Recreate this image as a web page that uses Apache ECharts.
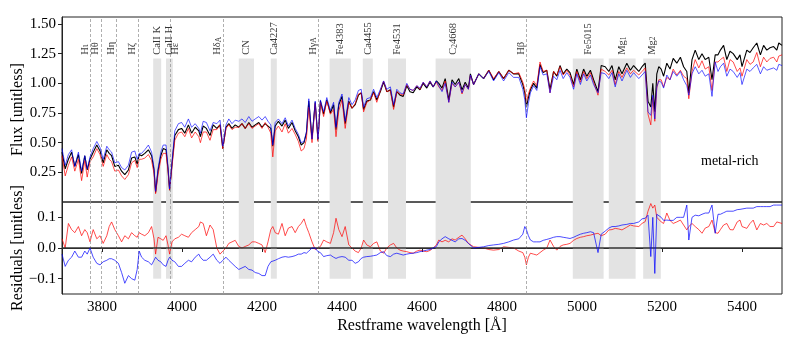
<!DOCTYPE html>
<html>
<head>
<meta charset="utf-8">
<script src="https://cdn.jsdelivr.net/npm/echarts@6/dist/echarts.min.js"></script>
<style>
  html, body { margin: 0; padding: 0; background: #fff; }
  #chart { width: 789px; height: 342px; }
</style>
</head>
<body>
<div id="chart"></div>
<script>
// restframe wavelength grid (Å)
const wave = [
  3700,3708,3716,3724,3732,3741,3749,3757,3763,3770,
  3778,3787,3795,3803,3812,3818,3824,3832,3841,3849,
  3857,3866,3874,3882,3888,3893,3899,3907,3916,3924,
  3930,3934,3940,3947,3953,3960,3965,3969,3975,3982,
  3991,3999,4007,4016,4024,4033,4042,4046,4053,4061,
  4070,4078,4087,4095,4102,4110,4117,4125,4133,4142,
  4150,4158,4167,4175,4183,4192,4200,4208,4215,4222,
  4227,4233,4241,4250,4258,4266,4275,4283,4291,4298,
  4305,4311,4317,4325,4333,4340,4346,4354,4362,4371,
  4379,4385,4392,4400,4408,4417,4425,4433,4441,4448,
  4454,4462,4471,4479,4487,4496,4504,4512,4521,4529,
  4537,4545,4553,4562,4570,4578,4587,4595,4603,4612,
  4620,4628,4636,4642,4650,4658,4667,4675,4683,4692,
  4700,4708,4716,4721,4729,4742,4754,4767,4779,4792,
  4804,4817,4829,4842,4852,4857,4861,4866,4871,4879,
  4887,4895,4903,4912,4920,4929,4937,4945,4953,4962,
  4970,4979,4987,4996,5004,5012,5021,5029,5040,5048,
  5058,5067,5075,5083,5092,5100,5112,5121,5129,5142,
  5150,5158,5165,5172,5177,5182,5187,5192,5198,5204,
  5212,5220,5228,5237,5246,5254,5262,5267,5275,5283,
  5292,5300,5308,5317,5325,5333,5340,5346,5354,5362,
  5370,5378,5388,5395,5400,5412,5420,5428,5437,5446,
  5454,5462,5470,5479,5487,5492,5500
];

const fluxBlack = [
  0.42,0.28,0.36,0.42,0.30,0.40,0.24,0.39,0.27,0.36,
  0.42,0.48,0.43,0.33,0.44,0.41,0.39,0.30,0.31,0.26,
  0.23,0.27,0.37,0.38,0.32,0.40,0.39,0.41,0.44,0.39,
  0.27,0.08,0.26,0.39,0.45,0.44,0.28,0.10,0.32,0.56,
  0.61,0.62,0.58,0.65,0.58,0.63,0.60,0.55,0.64,0.62,
  0.56,0.65,0.62,0.65,0.45,0.63,0.66,0.62,0.65,0.63,
  0.66,0.62,0.67,0.63,0.65,0.67,0.63,0.66,0.64,0.62,
  0.47,0.64,0.68,0.64,0.69,0.62,0.67,0.60,0.55,0.48,
  0.50,0.58,0.85,0.53,0.84,0.52,0.85,0.74,0.86,0.75,
  0.82,0.61,0.82,0.89,0.66,0.85,0.79,0.82,0.90,0.92,
  0.78,0.85,0.86,0.93,0.86,0.93,1.01,0.93,0.945,0.80,
  0.93,0.90,0.89,0.98,0.93,0.92,0.97,0.945,1.00,0.96,
  1.01,0.97,1.02,1.00,0.96,1.04,0.86,1.03,0.99,1.04,
  0.945,1.01,0.96,1.08,0.99,1.08,1.04,1.11,1.03,1.10,
  1.04,1.11,1.08,1.08,0.99,0.92,0.80,0.88,0.945,1.00,
  0.96,1.16,1.09,1.11,0.95,1.10,1.06,1.15,1.08,1.12,
  1.09,0.99,1.12,1.03,1.12,1.06,1.11,1.03,0.93,1.15,
  1.14,1.10,1.15,1.03,1.14,1.08,1.17,1.11,1.15,1.10,
  1.14,1.17,0.85,0.80,1.00,0.76,1.08,1.14,1.12,1.06,
  1.17,1.12,1.21,1.17,1.22,1.14,1.10,0.92,1.20,1.28,
  1.20,1.25,1.20,1.22,1.03,1.24,1.24,1.28,1.32,1.20,
  1.27,1.25,1.20,1.24,1.14,1.28,1.26,1.30,1.34,1.24,
  1.32,1.28,1.30,1.31,1.28,1.34,1.32
];

const fluxRed = [
  0.39,0.22,0.31,0.38,0.26,0.36,0.18,0.35,0.21,0.34,
  0.38,0.45,0.40,0.30,0.40,0.36,0.34,0.26,0.27,0.22,
  0.19,0.23,0.33,0.35,0.29,0.36,0.36,0.37,0.40,0.35,
  0.24,0.07,0.23,0.36,0.41,0.41,0.26,0.10,0.30,0.52,
  0.58,0.59,0.55,0.62,0.54,0.59,0.55,0.50,0.59,0.59,
  0.52,0.61,0.61,0.65,0.45,0.62,0.65,0.61,0.63,0.63,
  0.66,0.62,0.66,0.62,0.64,0.66,0.62,0.67,0.63,0.58,
  0.38,0.60,0.64,0.59,0.66,0.58,0.62,0.57,0.51,0.43,
  0.45,0.53,0.80,0.50,0.83,0.51,0.84,0.72,0.85,0.74,
  0.78,0.55,0.77,0.86,0.62,0.84,0.79,0.83,0.91,0.92,
  0.76,0.84,0.86,0.92,0.84,0.94,1.02,0.93,0.94,0.78,
  0.93,0.91,0.90,0.99,0.95,0.94,0.98,0.95,1.01,0.97,
  1.02,0.97,1.01,0.97,0.94,1.02,0.84,1.00,0.97,1.01,
  0.91,0.99,0.95,1.07,0.99,1.08,1.04,1.11,1.04,1.10,
  1.04,1.11,1.08,1.09,1.01,0.95,0.84,0.91,0.96,1.02,
  0.98,1.18,1.10,1.11,0.92,1.10,1.07,1.14,1.07,1.11,
  1.07,0.97,1.10,1.01,1.10,1.04,1.09,1.01,0.90,1.12,
  1.10,1.07,1.11,0.99,1.10,1.05,1.13,1.08,1.11,1.07,
  1.10,1.13,0.74,0.65,0.88,0.68,0.96,1.03,1.03,0.97,
  1.05,1.03,1.12,1.07,1.11,1.06,1.04,0.87,1.10,1.20,
  1.13,1.19,1.12,1.14,0.94,1.18,1.18,1.20,1.22,1.10,
  1.20,1.18,1.10,1.13,1.06,1.20,1.16,1.18,1.26,1.14,
  1.22,1.18,1.21,1.22,1.18,1.23,1.24
];

const fluxBlue = [
  0.45,0.31,0.40,0.44,0.30,0.42,0.26,0.39,0.28,0.38,
  0.45,0.51,0.46,0.36,0.47,0.44,0.42,0.33,0.34,0.29,
  0.27,0.31,0.42,0.43,0.36,0.41,0.41,0.44,0.48,0.42,
  0.29,0.09,0.28,0.42,0.48,0.48,0.30,0.11,0.34,0.60,
  0.66,0.67,0.63,0.70,0.63,0.66,0.62,0.58,0.68,0.67,
  0.60,0.67,0.66,0.69,0.47,0.65,0.70,0.66,0.69,0.68,
  0.70,0.67,0.72,0.68,0.70,0.72,0.69,0.72,0.68,0.65,
  0.48,0.67,0.70,0.66,0.71,0.64,0.69,0.62,0.57,0.50,
  0.51,0.59,0.87,0.53,0.85,0.53,0.86,0.76,0.88,0.77,
  0.84,0.63,0.84,0.91,0.68,0.88,0.82,0.86,0.94,0.95,
  0.80,0.87,0.88,0.95,0.88,0.95,1.02,0.95,0.97,0.82,
  0.95,0.92,0.91,1.00,0.95,0.94,0.98,0.96,1.01,0.97,
  1.02,0.97,1.02,0.98,0.93,1.00,0.84,1.01,0.97,1.01,
  0.92,0.99,0.95,1.07,0.99,1.08,1.04,1.10,1.02,1.09,
  1.02,1.09,1.05,1.05,0.95,0.86,0.71,0.83,0.92,0.98,
  0.94,1.14,1.07,1.08,0.92,1.06,1.03,1.11,1.04,1.09,
  1.05,0.95,1.08,0.99,1.08,1.02,1.07,0.99,0.92,1.09,
  1.08,1.04,1.09,0.97,1.08,1.02,1.11,1.05,1.09,1.04,
  1.07,1.10,0.76,0.73,0.90,0.70,0.97,1.02,1.01,0.96,
  1.07,1.03,1.10,1.06,1.10,1.03,0.98,0.90,1.08,1.14,
  1.08,1.11,1.06,1.08,0.89,1.18,1.10,1.14,1.17,1.06,
  1.12,1.10,1.05,1.09,0.99,1.12,1.10,1.13,1.16,1.08,
  1.14,1.11,1.12,1.13,1.11,1.16,1.15
];

const resRed = [
  0.03,0.00,0.08,0.06,0.05,0.07,0.04,0.06,0.05,0.02,
  0.06,0.03,0.04,0.015,0.04,0.07,0.085,0.06,0.04,0.02,
  0.04,0.03,0.05,0.04,0.035,0.05,0.045,0.04,0.05,0.07,
  0.03,-0.02,0.035,0.03,0.025,0.04,0.01,-0.02,0.02,0.03,
  0.035,0.045,0.04,0.035,0.05,0.06,0.07,0.085,0.08,0.04,
  0.075,0.06,0.00,-0.02,-0.01,0.00,0.015,0.02,0.025,0.005,
  0.00,0.005,0.01,0.02,0.02,0.015,0.01,-0.015,0.02,0.06,
  0.07,0.05,0.045,0.08,0.04,0.065,0.07,0.05,0.07,0.08,
  0.095,0.07,0.05,0.02,-0.005,0.00,0.005,0.026,0.02,0.015,
  0.05,0.097,0.06,0.037,0.07,0.01,0.00,-0.01,-0.015,0.00,
  0.026,0.01,0.004,0.015,0.02,-0.01,-0.017,0.00,0.01,0.015,
  0.00,-0.007,-0.01,-0.012,-0.015,-0.017,-0.01,-0.007,-0.01,-0.012,
  -0.008,0.00,0.01,0.026,0.02,0.025,0.02,0.03,0.026,0.035,
  0.042,0.03,0.015,0.01,0.004,0.002,0.00,-0.005,-0.007,-0.005,
  0.004,0.002,0.00,-0.01,-0.015,-0.03,-0.055,-0.03,-0.017,-0.02,
  -0.023,-0.015,-0.007,0.00,0.026,0.005,-0.007,0.005,0.01,0.012,
  0.015,0.025,0.031,0.035,0.037,0.04,0.042,0.045,0.048,0.04,
  0.045,0.059,0.06,0.064,0.062,0.059,0.068,0.075,0.072,0.07,
  0.08,0.086,0.12,0.145,0.13,0.14,0.10,0.10,0.085,0.08,
  0.114,0.09,0.08,0.085,0.091,0.075,0.059,0.07,0.08,0.07,
  0.06,0.048,0.065,0.07,0.091,0.05,0.048,0.06,0.075,0.08,
  0.06,0.059,0.085,0.091,0.07,0.064,0.08,0.091,0.059,0.08,
  0.075,0.08,0.07,0.07,0.085,0.091,0.08
];

const resBlue = [
  -0.02,-0.06,-0.04,-0.03,-0.01,-0.03,-0.03,-0.01,-0.02,0.00,
  -0.03,-0.05,-0.055,-0.045,-0.04,-0.035,-0.035,-0.04,-0.05,-0.08,
  -0.115,-0.09,-0.10,-0.105,-0.07,-0.01,-0.03,-0.04,-0.045,-0.055,
  -0.04,-0.03,-0.04,-0.045,-0.055,-0.06,-0.04,-0.03,-0.04,-0.045,
  -0.06,-0.06,-0.05,-0.04,-0.045,-0.03,-0.02,-0.03,-0.04,-0.04,
  -0.03,-0.02,-0.04,-0.05,-0.04,-0.03,-0.04,-0.05,-0.06,-0.07,
  -0.065,-0.06,-0.07,-0.072,-0.08,-0.083,-0.09,-0.09,-0.06,-0.045,
  -0.04,-0.04,-0.035,-0.03,-0.028,-0.03,-0.028,-0.025,-0.02,-0.02,
  -0.015,-0.017,-0.01,0.00,0.00,-0.012,-0.015,-0.028,-0.025,-0.023,
  -0.03,-0.034,-0.03,-0.028,-0.03,-0.04,-0.04,-0.05,-0.045,-0.034,
  -0.03,-0.028,-0.027,-0.025,-0.023,-0.015,-0.012,-0.025,-0.028,-0.02,
  -0.017,-0.02,-0.023,-0.02,-0.018,-0.017,-0.015,-0.012,-0.01,-0.007,
  -0.005,0.00,0.005,0.02,0.03,0.037,0.03,0.025,0.02,0.03,
  0.031,0.025,0.015,0.01,0.00,0.002,0.004,0.008,0.01,0.012,
  0.015,0.02,0.026,0.03,0.045,0.07,0.06,0.04,0.026,0.02,
  0.02,0.02,0.025,0.028,0.031,0.035,0.037,0.037,0.035,0.033,
  0.031,0.035,0.04,0.045,0.048,0.05,0.053,0.05,-0.015,0.045,
  0.055,0.065,0.07,0.07,0.072,0.075,0.077,0.08,0.08,0.085,
  0.095,0.097,0.107,-0.028,0.10,-0.083,0.11,0.11,0.10,0.09,
  0.091,0.09,0.09,0.10,0.10,0.10,0.14,0.026,0.10,0.107,
  0.105,0.11,0.114,0.114,0.14,0.048,0.11,0.11,0.115,0.12,
  0.12,0.12,0.125,0.126,0.13,0.13,0.13,0.13,0.135,0.135,
  0.135,0.135,0.135,0.14,0.14,0.14,0.14
];

// Balmer lines (dashed) and Lick index bands (grey)
const lineWaves = [3771, 3798, 3836, 3890, 3970, 4102, 4341, 4861];
const lineNames = ["{n|Hι}", "{n|Hθ}", "{n|Hη}", "{n|Hζ}", "{n|Hε}", "{n|Hδ}{s|A}", "{n|Hγ}{s|A}", "{n|Hβ}"];
const lineSide = ["left", "left", "left", "left", "right", "left", "left", "left"];
const bandStart = [3928, 3960, 4142, 4222, 4369, 4452, 4515, 4634, 4977, 5067, 5153];
const bandEnd = [3948, 3977, 4180, 4237, 4422, 4477, 4560, 4722, 5054, 5134, 5197];
const bandNames = ["{n|CaII K}", "{n|CaII H}", "{n|CN}", "{n|Ca4227}", "{n|Fe4383}", "{n|Ca4455}", "{n|Fe4531}",
  "{n|C}{s|2}{n|4668}", "{n|Fe5015}", "{n|Mg}{s|1}", "{n|Mg}{s|2}"];

const fluxTicks = [0.25, 0.5, 0.75, 1.0, 1.25, 1.5];
const resTicks = [-0.1, 0, 0.1];
const waveTicks = [3800, 4000, 4200, 4400, 4600, 4800, 5000, 5200, 5400];

let font = "'Liberation Serif', 'DejaVu Serif', serif";
let zip = (ys) => wave.map((w, i) => [w, ys[i]]);

let labelY = 1.24;
let labelItems = [];
lineWaves.forEach((w, i) => {
  labelItems.push({
    value: [w, labelY],
    name: lineNames[i],
    label: { verticalAlign: lineSide[i] === "left" ? "bottom" : "top" },
  });
});
bandStart.forEach((s, i) => {
  labelItems.push({
    value: [(s + bandEnd[i]) / 2, labelY],
    name: bandNames[i],
    label: { verticalAlign: "middle" },
  });
});

function markers(yLow, yBandTop) {
  return {
    type: "line",
    data: [],
    z: 1,
    silent: true,
    markArea: {
      silent: true,
      itemStyle: { color: "#e3e3e3" },
      data: bandStart.map((s, i) => [
        { xAxis: s, yAxis: yLow },
        { xAxis: bandEnd[i], yAxis: yBandTop },
      ]),
    },
    markLine: {
      silent: true,
      symbol: "none",
      label: { show: false },
      lineStyle: { color: "#9a9a9a", type: [3, 2], width: 0.8 },
      data: lineWaves.map((w) => ({ xAxis: w })),
    },
  };
}

let axisName = { fontFamily: font, fontSize: 16, color: "#000" };
let tickFont = { fontFamily: font, fontSize: 15, color: "#000" };

let chart = echarts.init(document.getElementById("chart"));
let option = {
  animation: false,
  title: {
    text: "metal-rich",
    left: 701,
    top: 154,
    padding: 0,
    textStyle: { fontFamily: font, fontSize: 14, fontWeight: "normal", color: "#000" },
  },
  grid: [
    { left: 62, right: 7, top: 17, height: 185, containLabel: false, outerBoundsMode: "none", show: true, borderColor: "#222", borderWidth: 1 },
    { left: 62, right: 7, top: 202, height: 92, containLabel: false, outerBoundsMode: "none", show: true, borderColor: "#222", borderWidth: 1 },
  ],
  xAxis: [
    {
      gridIndex: 0,
      type: "value",
      min: 3700,
      max: 5500,
      axisLine: { show: false },
      axisTick: { show: false },
      axisLabel: { show: false },
      splitLine: { show: false },
    },
    {
      gridIndex: 1,
      type: "value",
      min: 3700,
      max: 5500,
      name: "Restframe wavelength [Å]",
      nameLocation: "middle",
      nameGap: 24,
      nameMoveOverlap: false,
      nameTextStyle: axisName,
      axisLine: { show: true, lineStyle: { color: "#222" } },
      axisTick: { show: true, length: 4, customValues: waveTicks, lineStyle: { color: "#222" } },
      axisLabel: Object.assign({ customValues: waveTicks, margin: 6, formatter: (v) => String(v) }, tickFont),
      splitLine: { show: false },
    },
  ],
  yAxis: [
    {
      gridIndex: 0,
      type: "value",
      min: 0,
      max: 1.559,
      name: "Flux [unitless]",
      nameLocation: "middle",
      nameGap: 36,
      nameMoveOverlap: false,
      nameTextStyle: axisName,
      axisLine: { show: true, lineStyle: { color: "#222" } },
      axisTick: { show: true, length: 4, customValues: fluxTicks, lineStyle: { color: "#222" } },
      axisLabel: Object.assign({ customValues: fluxTicks, margin: 6, formatter: (v) => v.toFixed(2) }, tickFont),
      splitLine: { show: false },
    },
    {
      gridIndex: 1,
      type: "value",
      min: -0.15,
      max: 0.15,
      name: "Residuals [unitless]",
      nameLocation: "middle",
      nameGap: 36,
      nameMoveOverlap: false,
      nameTextStyle: axisName,
      axisLine: { show: true, lineStyle: { color: "#222" } },
      axisTick: { show: true, length: 4, customValues: resTicks, lineStyle: { color: "#222" } },
      axisLabel: Object.assign({
        customValues: resTicks,
        margin: 6,
        formatter: (v) => (Math.abs(v) < 1e-9 ? "0.0" : (v < 0 ? "\u2212" : "") + Math.abs(v).toFixed(1)),
      }, tickFont),
      splitLine: { show: false },
    },
  ],
  series: [
    Object.assign(markers(0, 1.21), { xAxisIndex: 0, yAxisIndex: 0 }),
    Object.assign(markers(-0.1, 0.15), { xAxisIndex: 1, yAxisIndex: 1 }),
    {
      name: "black",
      type: "line",
      xAxisIndex: 0,
      yAxisIndex: 0,
      z: 3,
      showSymbol: false,
      data: zip(fluxBlack),
      lineStyle: { color: "#000", width: 1.1 },
    },
    {
      name: "red",
      type: "line",
      xAxisIndex: 0,
      yAxisIndex: 0,
      z: 4,
      showSymbol: false,
      data: zip(fluxRed),
      lineStyle: { color: "rgba(255,0,0,0.7)", width: 1 },
    },
    {
      name: "blue",
      type: "line",
      xAxisIndex: 0,
      yAxisIndex: 0,
      z: 5,
      showSymbol: false,
      data: zip(fluxBlue),
      lineStyle: { color: "rgba(0,0,255,0.65)", width: 1 },
    },
    {
      name: "resRed",
      type: "line",
      xAxisIndex: 1,
      yAxisIndex: 1,
      z: 4,
      showSymbol: false,
      data: zip(resRed),
      lineStyle: { color: "rgba(255,0,0,0.7)", width: 1 },
    },
    {
      name: "resBlue",
      type: "line",
      xAxisIndex: 1,
      yAxisIndex: 1,
      z: 5,
      showSymbol: false,
      data: zip(resBlue),
      lineStyle: { color: "rgba(0,0,255,0.7)", width: 1 },
    },
    {
      name: "zero",
      type: "line",
      xAxisIndex: 1,
      yAxisIndex: 1,
      z: 6,
      data: [],
      markLine: {
        silent: true,
        symbol: "none",
        label: { show: false },
        lineStyle: { color: "#333", type: "solid", width: 1.5 },
        data: [{ yAxis: 0 }],
      },
    },
    {
      name: "labels",
      type: "scatter",
      xAxisIndex: 0,
      yAxisIndex: 0,
      z: 7,
      silent: true,
      symbolSize: 1,
      itemStyle: { color: "rgba(0,0,0,0)" },
      data: labelItems,
      label: {
        show: true,
        position: "inside",
        rotate: 90,
        align: "left",
        color: "#000",
        formatter: (p) => p.name,
        rich: {
          n: { fontFamily: font, fontSize: 10.5, color: "#000", verticalAlign: "bottom" },
          s: { fontFamily: font, fontSize: 7.5, color: "#000", verticalAlign: "bottom" },
        },
      },
    },
  ],
};
chart.setOption(option);
</script>
</body>
</html>
